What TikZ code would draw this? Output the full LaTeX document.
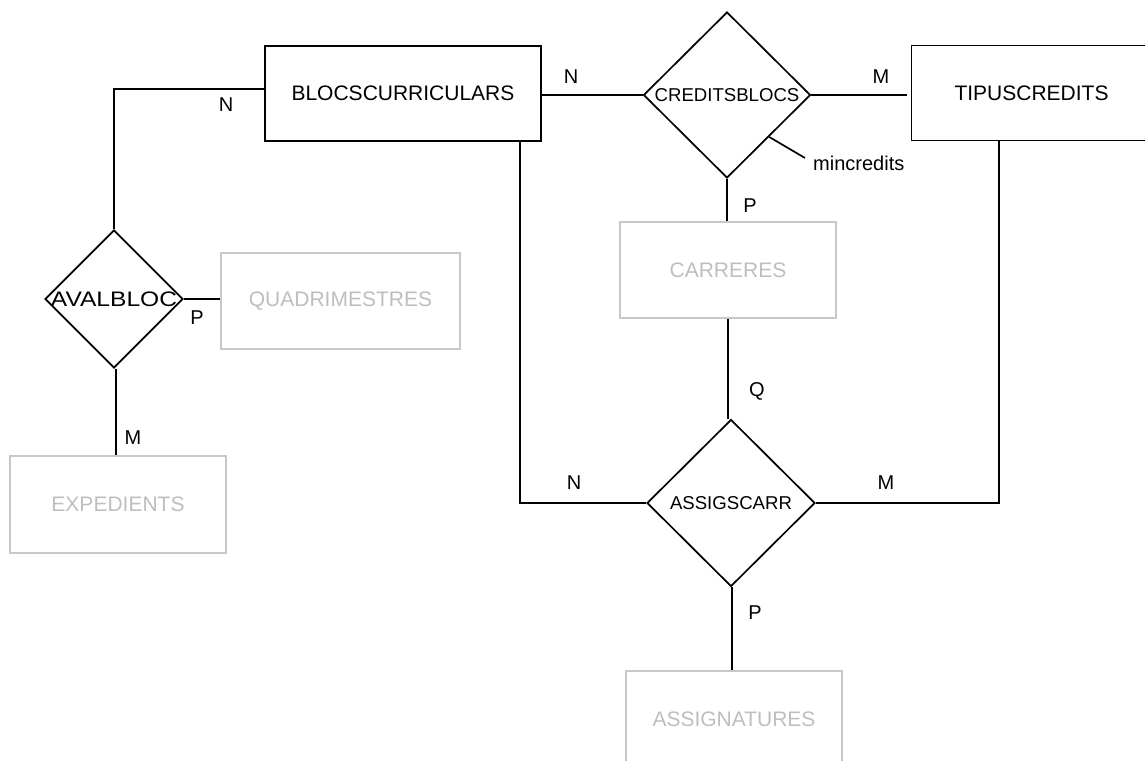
\documentclass[tikz,border=0pt]{standalone}
\usepackage{fontspec}
\setmainfont{Liberation Sans}
\usetikzlibrary{shapes.geometric,calc}
\definecolor{palegray}{RGB}{200,200,200}
\definecolor{paletext}{RGB}{190,190,190}
\tikzset{
  entity/.style={draw=black, line width=1.7pt, minimum width=276pt, minimum height=95pt, inner sep=0pt, font=\fontsize{21}{25}\selectfont},
  weak/.style={draw=palegray, line width=1.7pt, minimum width=216pt, minimum height=96pt, inner sep=0pt, text=paletext, font=\fontsize{21}{25}\selectfont},
  rel/.style={draw=black, diamond, line width=1.7pt, inner sep=0pt, font=\fontsize{18.6}{22}\selectfont},
  conn/.style={line width=1.7pt},
  card/.style={font=\fontsize{20}{24}\selectfont, inner sep=0pt}
}
\begin{document}
\begin{tikzpicture}[x=1pt,y=-1pt]
\useasboundingbox (0,0) rectangle (1145,760);
% entities
\node[entity] (bc) at (403,93.5) {BLOCSCURRICULARS};
\node[entity, minimum width=240pt] (tc) at (1031.5,93) {TIPUSCREDITS};
\node[weak] (ca) at (728,270) {CARRERES};
\node[weak] (an) at (734,719) {ASSIGNATURES};
\node[weak, minimum width=239pt] (qu) at (340.5,301) {QUADRIMESTRES};
\node[weak, minimum width=216pt, minimum height=97pt] (ex) at (118,504.5) {EXPEDIENTS};
% relationships
\node[rel, minimum width=167pt, minimum height=166pt] (cb) at (727,95) {\makebox[0pt]{CREDITSBLOCS}};
\node[rel, minimum width=168pt, minimum height=167pt] (as) at (731,503) {\makebox[0pt]{ASSIGSCARR}};
\node[rel, minimum width=138pt, minimum height=138pt, font=\fontsize{21}{25}\selectfont] (av) at (114,299) {\makebox[0pt]{\scalebox{1.17}[1]{AVALBLOC}}};
% attribute
\node[font=\fontsize{20}{24}\selectfont, inner sep=0pt, anchor=west] (mc) at (813,163) {mincredits};
% helper coordinates
\coordinate (mcend) at ($(mc.west)+(-8,-5)$);
\coordinate (tcin) at ($(cb.east -| tc.west)+(-4,0)$);
\coordinate (asbot) at ($(as.south)+(1,0)$);
\coordinate (anin) at (asbot |- an.north);
\coordinate (avbot) at ($(av.south)+(2,0)$);
\coordinate (exin) at (avbot |- ex.north);
\coordinate (bcleg) at ($(bc.south west)+(256,0)$);
\coordinate (tcleg) at ($(tc.south west)+(88,0)$);
\coordinate (bcin) at ($(bc.west)+(0,-4.5)$);
% connectors
\draw[conn] (bc.east |- cb.west) -- (cb.west);
\draw[conn] (cb.east) -- (tcin);
\draw[conn] (cb.south east) -- (mcend);
\draw[conn] (cb.south) -- (cb.south |- ca.north);
\draw[conn] (ca.south) -- (ca.south |- as.north);
\draw[conn] (asbot) -- (anin);
\draw[conn] (bcleg) |- (as.west);
\draw[conn] (tcleg) |- (as.east);
\draw[conn] (av.north) |- (bcin);
\draw[conn] (av.east) -- (av.east -| qu.west);
\draw[conn] (avbot) -- (exin);
% cardinalities
\node[card] (c1) at (571,77) {N};
\node[card] (c2) at (881,77) {M};
\node[card] (c3) at (750,206) {P};
\node[card] (c4) at (757,391) {Q};
\node[card] (c5) at (574,483) {N};
\node[card] (c6) at (886,483) {M};
\node[card] (c7) at (755,613) {P};
\node[card] (c8) at (226,105) {N};
\node[card] (c9) at (197,318) {P};
\node[card] (c10) at (133,438) {M};
\end{tikzpicture}
\end{document}
